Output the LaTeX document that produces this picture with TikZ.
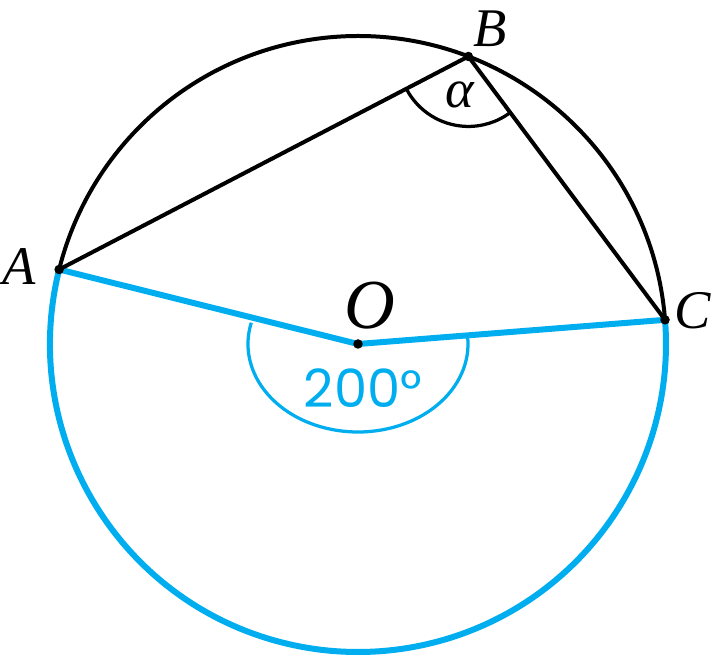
\documentclass[tikz,border=0pt]{standalone}
\usepackage{fontspec}
\setmainfont{Liberation Serif}
\newfontfamily\numfont{Poppins}
\usetikzlibrary{angles}
\definecolor{arcblue}{RGB}{0,174,239}

\begin{document}
\begin{tikzpicture}[x=0.02cm, y=0.02cm,
    blueline/.style={arcblue, line width=0.12cm, line join=round},
    blackline/.style={black, line width=0.08cm},
    ptdot/.style={circle, fill=black, inner sep=0pt, minimum size=0.19cm},
    ptlabel/.style={inner sep=0pt, font=\fontsize{31}{31}\selectfont\itshape}]
    \useasboundingbox (0,0) rectangle (714,656);

    % 圆心和圆上的点
    \coordinate (O) at (358,312);
    \coordinate (A) at ([shift={(166:308)}]O);
    \coordinate (B) at ([shift={(69:308)}]O);
    \coordinate (C) at ([shift={(4.5:308)}]O);

    % 上面的圆弧
    \draw[blackline] (C) arc[start angle=4.5, end angle=166, radius=308];

    % 下面的圆弧 (200度)
    \draw[blueline] (A) arc[start angle=166, end angle=364.5, radius=308];
    \draw[blueline] (A) -- (O) -- (C);
    \draw[arcblue, line width=0.065cm] ([shift={(166:110 and 88)}]O)
        arc[start angle=166, end angle=364.5, x radius=110, y radius=88];
    \node[text=arcblue, font=\fontsize{30}{30}\selectfont\numfont] (deg) at (363,268) {200°};

    % 圆周角
    \draw[blackline] (A) -- (B) -- (C);
    \pic[draw, black, line width=0.065cm, angle radius=1.4cm, angle eccentricity=0.57,
        pic text={\fontsize{31}{31}\selectfont\itshape α}] {angle=A--B--C};

    % 点
    \node[ptdot] (dotA) at (A) {};
    \node[ptdot] (dotB) at (B) {};
    \node[ptdot] (dotC) at (C) {};
    \node[ptdot] (dotO) at (O) {};

    % 标签
    \node[ptlabel] (labA) at (19,389) {A};
    \node[ptlabel] (labB) at (490,627) {B};
    \node[ptlabel] (labC) at (693,345) {C};
    \node[ptlabel, font=\fontsize{40}{40}\selectfont\itshape] (labO) at (370,350) {O};
\end{tikzpicture}
\end{document}
